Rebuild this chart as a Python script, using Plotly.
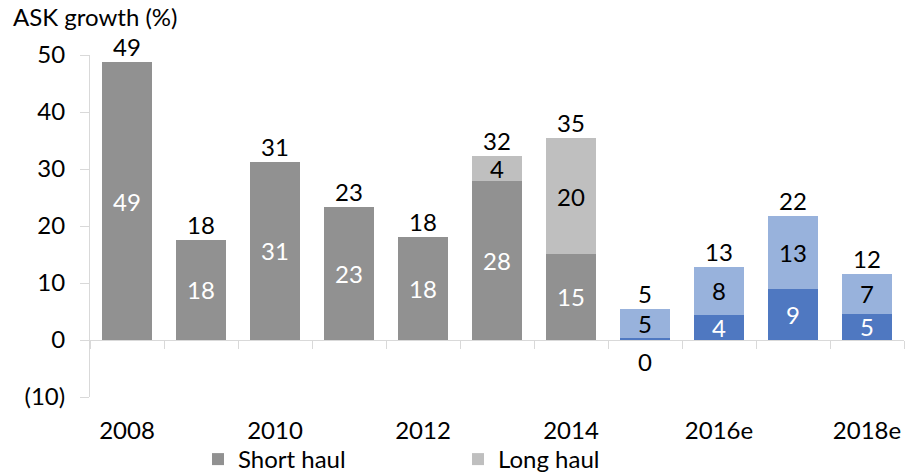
import plotly.graph_objects as go

# ASK growth by year, split into short-haul and long-haul capacity (%)
years = ["2008", "2009", "2010", "2011", "2012", "2013", "2014",
         "2015", "2016e", "2017e", "2018e"]
short_haul = [48.7, 17.6, 31.3, 23.3, 18.0, 27.9, 15.1, 0.3, 4.4, 8.9, 4.6]
long_haul = [0, 0, 0, 0, 0, 4.4, 20.3, 5.1, 8.4, 12.8, 7.0]

tick_years = ["2008", "2010", "2012", "2014", "2016e", "2018e"]
y_ticks = [-10, 0, 10, 20, 30, 40, 50]
y_tick_text = ["(10)", "0", "10", "20", "30", "40", "50"]

first_blue = years.index("2015")

SHORT_GREY, LONG_GREY = "#919191", "#BFBFBF"
SHORT_BLUE, LONG_BLUE = "#4F78C1", "#98B2DC"
AXIS = "#D9D9D9"
FONT = "Lato"
FS = 24

short_colors = [SHORT_GREY if i < first_blue else SHORT_BLUE for i in range(len(years))]
long_colors = [LONG_GREY if i < first_blue else LONG_BLUE for i in range(len(years))]

totals = [s + l for s, l in zip(short_haul, long_haul)]


def fmt(v):
    return f"{v:.0f}"


short_text = [fmt(v) if v >= 1 else "" for v in short_haul]
long_text = [fmt(v) if v > 0 else "" for v in long_haul]

fig = go.Figure()

fig.add_trace(go.Bar(
    x=years, y=short_haul, name="Short haul",
    marker=dict(color=short_colors, line=dict(width=0)),
    text=short_text, textposition="inside", insidetextanchor="middle", textangle=0,
    insidetextfont=dict(color="white", size=FS, family=FONT),
    hoverinfo="skip",
))
fig.add_trace(go.Bar(
    x=years, y=long_haul, name="Long haul",
    marker=dict(color=long_colors, line=dict(width=0)),
    text=long_text, textposition="inside", insidetextanchor="middle", textangle=0,
    insidetextfont=dict(color="black", size=FS, family=FONT),
    hoverinfo="skip",
))

# totals above each stack
fig.add_trace(go.Scatter(
    x=years, y=totals, mode="text", text=[fmt(v) for v in totals],
    textposition="top center", textfont=dict(color="black", size=FS, family=FONT),
    showlegend=False, hoverinfo="skip", xaxis="x2", yaxis="y", cliponaxis=False,
))

# short-haul values too small to hold a label are written under the axis;
# an invisible marker pushes the text clear of the axis line
small = [(x, v) for x, v in zip(years, short_haul) if v < 1]
fig.add_trace(go.Scatter(
    x=[x for x, _ in small], y=[v for _, v in small], mode="markers+text",
    marker=dict(size=22, color="rgba(0,0,0,0)"),
    text=[fmt(v) for _, v in small],
    textposition="bottom center", textfont=dict(color="black", size=FS, family=FONT),
    showlegend=False, hoverinfo="skip", xaxis="x2", yaxis="y", cliponaxis=False,
))

fig.update_layout(
    width=905, height=475,
    margin=dict(l=90, r=1, t=55, b=78, autoexpand=False),
    barmode="stack", bargap=0.324,
    plot_bgcolor="white", paper_bgcolor="white",
    font=dict(family=FONT, size=FS, color="black"),
    uniformtext=dict(minsize=FS, mode="show"),
    title=dict(text="ASK growth (%)", x=13 / 905, xanchor="left", xref="container",
               y=1 - 18 / 475, yanchor="middle", yref="container",
               font=dict(size=FS, family=FONT, color="black")),
    xaxis=dict(
        type="category", categoryorder="array", categoryarray=years,
        range=[-0.5, len(years) - 0.5],
        anchor="free", position=10 / 60,
        showline=True, linecolor=AXIS, linewidth=1,
        ticks="outside", tickson="boundaries", ticklen=8, tickcolor=AXIS,
        showticklabels=False, showgrid=False, zeroline=False,
    ),
    xaxis2=dict(
        type="category", categoryorder="array", categoryarray=years,
        range=[-0.5, len(years) - 0.5],
        overlaying="x", anchor="y", side="bottom",
        showline=False, ticks="", tickvals=tick_years, ticktext=tick_years,
        ticklabelstandoff=17, showgrid=False, zeroline=False,
        tickfont=dict(size=FS, family=FONT, color="black"),
    ),
    yaxis=dict(
        range=[-10, 50], tickvals=y_ticks, ticktext=y_tick_text,
        showline=True, linecolor=AXIS, linewidth=1,
        ticks="outside", ticklen=9, tickcolor=AXIS,
        ticklabelstandoff=10, showgrid=False, zeroline=False,
        tickfont=dict(size=FS, family=FONT, color="black"),
    ),
    legend=dict(
        orientation="h", x=(198 - 90) / 814, xanchor="left",
        y=1 - 437 / 475, yanchor="top", yref="container",
        entrywidth=215, entrywidthmode="pixels",
        font=dict(size=FS, family=FONT, color="black"),
        bgcolor="rgba(0,0,0,0)", traceorder="normal",
    ),
)

fig.write_html("out.html")
